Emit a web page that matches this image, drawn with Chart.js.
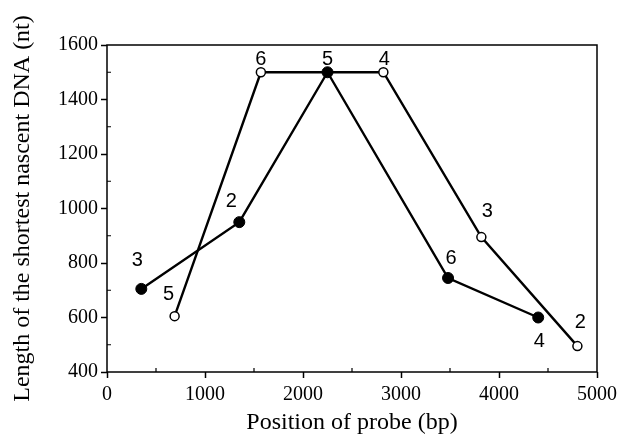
<!DOCTYPE html>
<html>
<head>
<meta charset="utf-8">
<script src="https://cdn.jsdelivr.net/npm/chart.js@4.4.1/dist/chart.umd.min.js"></script>
<style>
  html, body { margin: 0; padding: 0; background: #fff; }
  #wrap { width: 618px; height: 437px; }
</style>
</head>
<body>
<div id="wrap"><canvas id="myChart"></canvas></div>
<script>
// filled circles
var filledX = [350, 1350, 2250, 3480, 4400];
var filledY = [705, 950, 1500, 745, 600];
var filledLabels = ["3", "2", "5", "6", "4"];

// open circles
var openX = [690, 1570, 2820, 3820, 4800];
var openY = [605, 1500, 1500, 895, 495];
var openLabels = ["5", "6", "4", "3", "2"];

var xTicks = [0, 1000, 2000, 3000, 4000, 5000];
var yTicks = [400, 600, 800, 1000, 1200, 1400, 1600];

function toPoints(xs, ys) {
    return xs.map(function (x, i) { return { x: x, y: ys[i] }; });
}

// offsets of the number next to each point (px)
var filledOffsets = [[-4, -28], [-8, -21], [0, -13], [3, -20], [1, 24]];
var openOffsets = [[-6, -22], [0, -13], [1, -13], [6, -26], [3, -24]];

var pointNumbers = {
    id: 'pointNumbers',
    afterDatasetsDraw: function (chart) {
        var ctx = chart.ctx;
        ctx.save();
        ctx.fillStyle = '#000';
        ctx.font = '20px "Liberation Sans", Arial, sans-serif';
        ctx.textAlign = 'center';
        ctx.textBaseline = 'middle';
        chart.data.datasets.forEach(function (ds, di) {
            var meta = chart.getDatasetMeta(di);
            meta.data.forEach(function (el, i) {
                var off = ds.numberOffsets[i];
                ctx.fillText(ds.numbers[i], el.x + off[0], el.y + off[1]);
            });
        });
        ctx.restore();
    }
};

// frame and minor ticks
var frame = {
    id: 'frame',
    beforeDatasetsDraw: function (chart) {
        var ctx = chart.ctx;
        var a = chart.chartArea;
        var xs = chart.scales.x, ys = chart.scales.y;
        ctx.save();
        ctx.strokeStyle = '#000';
        ctx.lineWidth = 1.5;
        ctx.strokeRect(a.left, a.top, a.right - a.left, a.bottom - a.top);
        ctx.lineWidth = 1.2;
        ctx.beginPath();
        for (var v = 500; v < 5000; v += 1000) {
            var px = xs.getPixelForValue(v);
            ctx.moveTo(px, a.bottom);
            ctx.lineTo(px, a.bottom - 4);
        }
        for (var w = 500; w < 1600; w += 200) {
            var py = ys.getPixelForValue(w);
            ctx.moveTo(a.left, py);
            ctx.lineTo(a.left + 4, py);
        }
        ctx.stroke();
        ctx.restore();
    }
};

var serif = '"Liberation Serif", "Times New Roman", serif';
function plain(v) { return String(v); }

new Chart("myChart", {
    type: "scatter",
    data: {
        datasets: [{
            data: toPoints(filledX, filledY),
            numbers: filledLabels,
            numberOffsets: filledOffsets,
            showLine: true,
            borderColor: '#000',
            borderWidth: 2.4,
            pointBackgroundColor: '#000',
            pointBorderColor: '#000',
            pointBorderWidth: 1,
            pointRadius: 5.5,
            order: 0
        }, {
            data: toPoints(openX, openY),
            numbers: openLabels,
            numberOffsets: openOffsets,
            showLine: true,
            borderColor: '#000',
            borderWidth: 2.4,
            pointBackgroundColor: '#fff',
            pointBorderColor: '#000',
            pointBorderWidth: 1.5,
            pointRadius: 4.5,
            order: 1
        }]
    },
    options: {
        responsive: true,
        maintainAspectRatio: false,
        animation: false,
        layout: { padding: { left: 0, right: 21, top: 45, bottom: 0 } },
        plugins: {
            legend: { display: false },
            tooltip: { enabled: false }
        },
        scales: {
            x: {
                type: 'linear',
                min: 0,
                max: 5000,
                afterBuildTicks: function (s) { s.ticks = xTicks.map(function (v) { return { value: v }; }); },
                afterFit: function (s) { s.height = 65; s.paddingRight = 0; s.paddingLeft = 0; },
                grid: { drawOnChartArea: false, tickLength: 6, tickColor: '#000', tickWidth: 1.5 },
                border: { display: false },
                ticks: { color: '#000', font: { family: serif, size: 20 }, padding: 5, maxRotation: 0, callback: plain },
                title: { display: true, text: 'Position of probe (bp)', color: '#000', font: { family: serif, size: 24 }, padding: { top: 0, bottom: 0 } }
            },
            y: {
                min: 400,
                max: 1600,
                afterBuildTicks: function (s) { s.ticks = yTicks.map(function (v) { return { value: v }; }); },
                afterFit: function (s) { s.width = 107; s.paddingTop = 0; s.paddingBottom = 0; },
                grid: { drawOnChartArea: false, tickLength: 6, tickColor: '#000', tickWidth: 1.5 },
                border: { display: false },
                ticks: { color: '#000', font: { family: serif, size: 20 }, padding: 3, callback: plain },
                title: { display: true, text: 'Length of the shortest nascent DNA (nt)', color: '#000', font: { family: serif, size: 24 }, padding: { top: 8, bottom: 0 } }
            }
        }
    },
    plugins: [frame, pointNumbers]
});
</script>
</body>
</html>
